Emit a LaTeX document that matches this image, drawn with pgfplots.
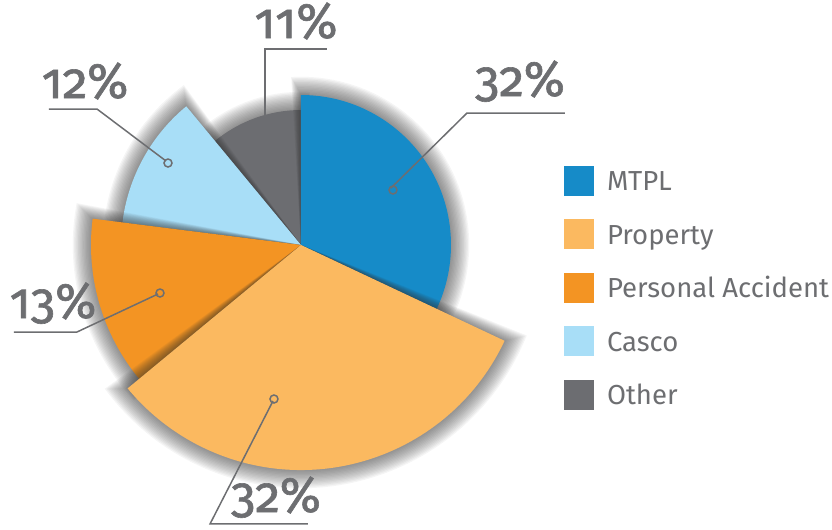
\documentclass[border=0pt]{standalone}
\usepackage{pgfplots}
\pgfplotsset{compat=1.18}
\usepackage{pgfplotstable}
\usepackage{fontspec}
\setmainfont{Fira Sans}
\newfontfamily\pctfont[Numbers=OldStyle, FakeBold=1.2]{Fira Sans}
\definecolor{col0}{RGB}{22,139,200}
\definecolor{col1}{RGB}{251,185,96}
\definecolor{col2}{RGB}{243,148,35}
\definecolor{col3}{RGB}{168,222,247}
\definecolor{col4}{RGB}{108,109,113}
\definecolor{txt}{RGB}{109,110,113}

% name, share (%), cumulative start (%), radius (px)
\pgfplotstableread{
name pct cum r
MTPL 32 0 150
Property 32 32 225
Accident 13 64 210
Casco 12 77 180
Other 11 89 135
}\slices

\newcommand\slice[4]{%
  \foreach \k in {1,...,14}{%
    \pgfmathsetmacro\sa{#1+\k*0.24}%
    \pgfmathsetmacro\ea{#2-\k*0.24}%
    \pgfmathsetmacro\sr{(#3+\k*1.3)*0.4}%
    \edef\shad{\noexpand\fill[black!80,opacity=0.05] (axis cs:301,285) -- ++(\sa:\sr pt)
      arc[start angle=\sa, end angle=\ea, radius=\sr pt] -- cycle;}%
    \shad
  }%
  \pgfmathsetmacro\fr{#3*0.4}%
  \edef\body{\noexpand\fill[#4] (axis cs:301,285) -- ++(#1:\fr pt)
    arc[start angle=#1, end angle=#2, radius=\fr pt] -- cycle;}%
  \body
}

\begin{document}
\begin{tikzpicture}
\useasboundingbox (0,0) rectangle (332.8pt,212pt);
\begin{axis}[
  x=0.4pt, y=0.4pt, xmin=0, xmax=832, ymin=0, ymax=530,
  hide axis, clip=false, anchor=south west,
  legend image code/.code={\fill[#1] (0pt,-2.05pt) rectangle (12pt,9.95pt); \path (0pt,-6.75pt) (17.2pt,14.65pt);},
  legend cell align=left,
  legend style={at={(0.6779,0.7090)}, anchor=north west, draw=none, fill=none,
    inner sep=0pt, outer sep=0pt, column sep=0pt, row sep=0pt,
    font=\fontsize{11}{13}\selectfont, text=txt,
    nodes={inner sep=0pt, text height=14.65pt, text depth=6.75pt, anchor=base west}},
]
\addlegendimage{draw=none,fill=col0}
\addlegendentry{MTPL}
\addlegendimage{draw=none,fill=col1}
\addlegendentry{Property}
\addlegendimage{draw=none,fill=col2}
\addlegendentry{Personal Accident}
\addlegendimage{draw=none,fill=col3}
\addlegendentry{Casco}
\addlegendimage{draw=none,fill=col4}
\addlegendentry{Other}

\foreach \i in {4,0,3,2,1}{
  \pgfplotstablegetelem{\i}{pct}\of\slices\edef\p{\pgfplotsretval}
  \pgfplotstablegetelem{\i}{cum}\of\slices\edef\c{\pgfplotsretval}
  \pgfplotstablegetelem{\i}{r}\of\slices\edef\rr{\pgfplotsretval}
  \pgfmathsetmacro\aS{90-3.6*\c}
  \pgfmathsetmacro\aE{90-3.6*(\c+\p)}
  \edef\doit{\noexpand\slice{\aS}{\aE}{\rr}{col\i}}
  \doit
}

% leader lines
\addplot[txt, line width=0.6pt, no markers, forget plot] coordinates {(565,417) (467,417) (391,342)};
\addplot[txt, line width=0.6pt, no markers, forget plot] coordinates {(327,481) (265,481) (265,413)};
\addplot[txt, line width=0.6pt, no markers, forget plot] coordinates {(49,421) (97,421) (166,369)};
\addplot[txt, line width=0.6pt, no markers, forget plot] coordinates {(14,198) (77,198) (158,236)};
\addplot[txt, line width=0.6pt, no markers, forget plot] coordinates {(308,6) (210,6) (273,129)};
\addplot[txt, only marks, mark=o, mark size=1.6pt, mark options={line width=0.6pt}, forget plot]
  coordinates {(393,340) (168,367) (160,237) (274,131)};

% percentage labels
\node[anchor=base, text=txt, font=\pctfont\fontsize{20}{20}\selectfont, inner sep=0pt] at (axis cs:520,434) {32\%};
\node[anchor=base, text=txt, font=\pctfont\fontsize{20}{20}\selectfont, inner sep=0pt] at (axis cs:296,492) {11\%};
\node[anchor=base, text=txt, font=\pctfont\fontsize{20}{20}\selectfont, inner sep=0pt] at (axis cs:85,432) {12\%};
\node[anchor=base, text=txt, font=\pctfont\fontsize{20}{20}\selectfont, inner sep=0pt] at (axis cs:53,212) {13\%};
\node[anchor=base, text=txt, font=\pctfont\fontsize{20}{20}\selectfont, inner sep=0pt] at (axis cs:276,18) {32\%};
\end{axis}
\end{tikzpicture}
\end{document}
